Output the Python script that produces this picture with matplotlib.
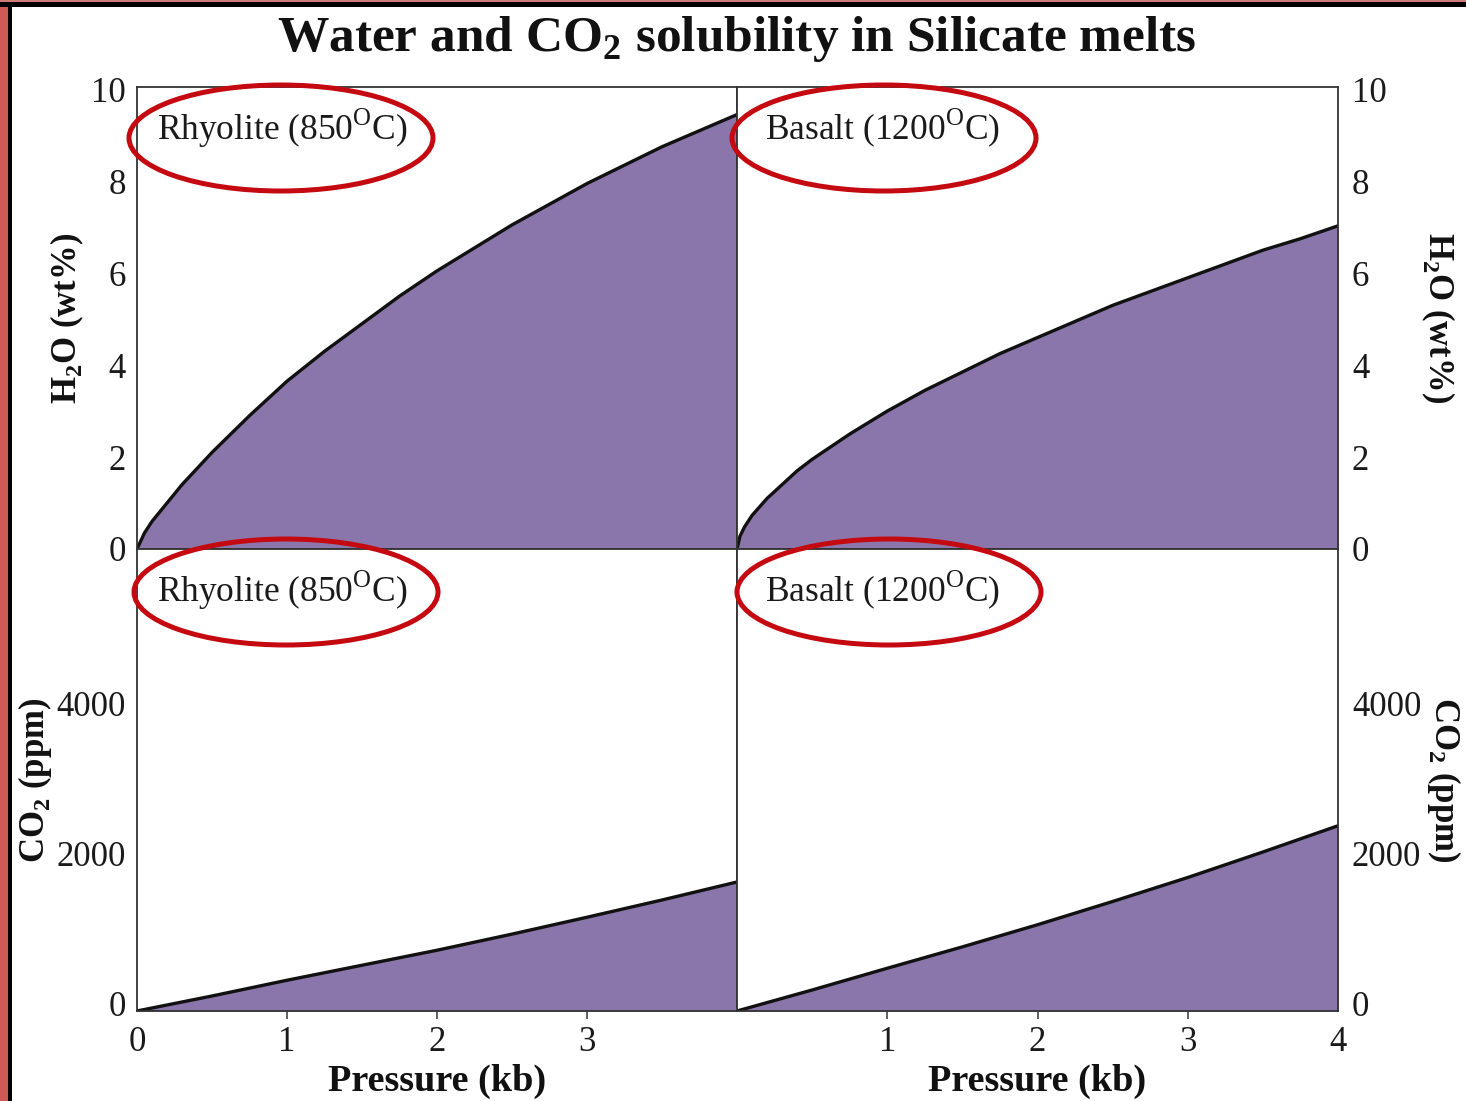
import numpy as np
import matplotlib
matplotlib.use("Agg")
import matplotlib.pyplot as plt
from matplotlib.patches import Ellipse, Rectangle
from matplotlib.transforms import ScaledTranslation

plt.rcParams['font.family'] = ['Liberation Serif', 'DejaVu Serif']
plt.rcParams['mathtext.fontset'] = 'custom'
plt.rcParams['mathtext.rm'] = 'Liberation Serif'
plt.rcParams['mathtext.bf'] = 'Liberation Serif:bold'

# data (pressure in kb)
p_rhy_h2o = [0, 0.05, 0.1, 0.2, 0.3, 0.4, 0.5, 0.75, 1.0, 1.25, 1.5, 1.75, 2.0,
             2.25, 2.5, 2.75, 3.0, 3.25, 3.5, 3.75, 4.0]
h2o_rhyolite = [0, 0.35, 0.6, 1.0, 1.4, 1.75, 2.1, 2.9, 3.65, 4.3, 4.9, 5.5, 6.05,
                6.55, 7.05, 7.5, 7.95, 8.35, 8.75, 9.1, 9.45]
p_bas_h2o = [0, 0.02, 0.05, 0.1, 0.2, 0.3, 0.4, 0.5, 0.75, 1.0, 1.25, 1.5, 1.75,
             2.0, 2.25, 2.5, 2.75, 3.0, 3.25, 3.5, 3.75, 4.0]
h2o_basalt = [0, 0.28, 0.48, 0.73, 1.1, 1.4, 1.7, 1.95, 2.5, 3.0, 3.45, 3.85, 4.25,
              4.6, 4.95, 5.3, 5.6, 5.9, 6.2, 6.5, 6.75, 7.03]
p_co2 = [0, 0.5, 1.0, 1.5, 2.0, 2.5, 3.0, 3.5, 4.0]
co2_rhyolite = [0, 200, 410, 610, 810, 1025, 1250, 1480, 1720]
co2_basalt = [0, 280, 570, 855, 1150, 1460, 1780, 2120, 2470]

h2o_ticks = [0, 2, 4, 6, 8, 10]
co2_ticks = [0, 2000, 4000]

fill_col = '#8a76aa'
ring_col = '#c40a10'
spine_col = '#333333'

W, H = 1466, 1101
fig = plt.figure(figsize=(W / 100, H / 100), dpi=100)

# frame of the slide
fig.add_artist(Rectangle((0, 0), 8 / W, 1, transform=fig.transFigure, color='#cf5a55', lw=0))
fig.add_artist(Rectangle((8 / W, 0), 4 / W, 1, transform=fig.transFigure, color='black', lw=0))
fig.add_artist(Rectangle((0, 1 - 2 / H), 1, 2 / H, transform=fig.transFigure, color='#cf7a75', lw=0))
fig.add_artist(Rectangle((0, 1 - 7 / H), 1, 5 / H, transform=fig.transFigure, color='black', lw=0))


def px_axes(x0, y0, x1, y1):
    return fig.add_axes([x0 / W, 1 - y1 / H, (x1 - x0) / W, (y1 - y0) / H])


ax_tl = px_axes(137, 87, 737, 549)
ax_tr = px_axes(737, 87, 1338, 549)
ax_bl = px_axes(137, 549, 737, 1011)
ax_br = px_axes(737, 549, 1338, 1011)

panels = [
    (ax_tl, p_rhy_h2o, h2o_rhyolite, (0, 10.05), h2o_ticks),
    (ax_tr, p_bas_h2o, h2o_basalt, (0, 10.05), h2o_ticks),
    (ax_bl, p_co2, co2_rhyolite, (0, 6160), co2_ticks),
    (ax_br, p_co2, co2_basalt, (0, 6160), co2_ticks),
]
for ax, x, y, ylim, yt in panels:
    ax.fill_between(x, 0, y, color=fill_col, lw=0)
    ax.plot(x, y, color='#111111', lw=2.4, solid_capstyle='butt', solid_joinstyle='round')
    ax.set_xlim(0, 4)
    ax.set_ylim(*ylim)
    ax.set_yticks(yt)
    ax.set_xticks([0, 1, 2, 3, 4])
    for s in ax.spines.values():
        s.set_color(spine_col)
        s.set_linewidth(1.3)
    ax.tick_params(axis='x', direction='out', length=6, width=1.1, color=spine_col,
                   labelsize=25, pad=5, labelcolor='#1a1a1a')
    ax.tick_params(axis='y', length=0, labelsize=25, pad=8, labelcolor='#1a1a1a')

# x ticks: only 1,2,3 marks; labels on the bottom row
for ax in (ax_tl, ax_tr):
    ax.set_xticks([1, 2, 3])
    ax.set_xticklabels([])
ax_bl.set_xticks([0, 1, 2, 3])
ax_bl.xaxis.get_major_ticks()[0].tick1line.set_visible(False)
ax_br.set_xticks([1, 2, 3, 4])
ax_br.xaxis.get_major_ticks()[-1].tick1line.set_visible(False)

for ax in (ax_tr, ax_br):
    ax.yaxis.tick_right()
    ax.yaxis.set_label_position('right')
    ax.tick_params(axis='y', length=0, labelsize=25, pad=10)

# CO2 tick labels sit a little above their values in the original
for ax in (ax_bl, ax_br):
    for lab in ax.get_yticklabels():
        lab.set_transform(lab.get_transform() + ScaledTranslation(0, 0.07, fig.dpi_scale_trans))

lab_kw = dict(fontsize=25, fontweight='bold', color='#111111')
ax_tl.set_ylabel(r'H$_{\mathbf{2}}$O (wt%)', labelpad=4, **lab_kw)
ax_bl.set_ylabel(r'CO$_{\mathbf{2}}$ (ppm)', labelpad=2, **lab_kw)
ax_tr.set_ylabel(r'H$_{\mathbf{2}}$O (wt%)', rotation=270, labelpad=50, **lab_kw)
ax_br.set_ylabel(r'CO$_{\mathbf{2}}$ (ppm)', rotation=270, labelpad=30, **lab_kw)
ax_bl.set_xlabel('Pressure (kb)', labelpad=3, fontsize=27.5, fontweight='bold', color='#111111')
ax_br.set_xlabel('Pressure (kb)', labelpad=3, fontsize=27.5, fontweight='bold', color='#111111')

# panel names with red rings
names = [
    (157, 128, r'Rhyolite (850$^{\mathrm{O}}$C)', 281, 138),
    (765, 128, r'Basalt (1200$^{\mathrm{O}}$C)', 884, 138),
    (157, 590, r'Rhyolite (850$^{\mathrm{O}}$C)', 286, 592),
    (765, 590, r'Basalt (1200$^{\mathrm{O}}$C)', 889, 592),
]
for tx, ty, txt, ex, ey in names:
    fig.text(tx / W, 1 - ty / H, txt, fontsize=25.5, color='#1a1a1a', ha='left', va='center')
    fig.add_artist(Ellipse((ex / 100, (H - ey) / 100), 3.04, 1.06,
                           transform=fig.dpi_scale_trans, fill=False,
                           ec=ring_col, lw=3.6))

fig.text(737 / W, 1 - 39 / H, r'Water and CO$_{\mathbf{2}}$ solubility in Silicate melts',
         fontsize=37, fontweight='bold', ha='center', va='center', color='#111111')

fig.savefig('out.png', dpi=100)
